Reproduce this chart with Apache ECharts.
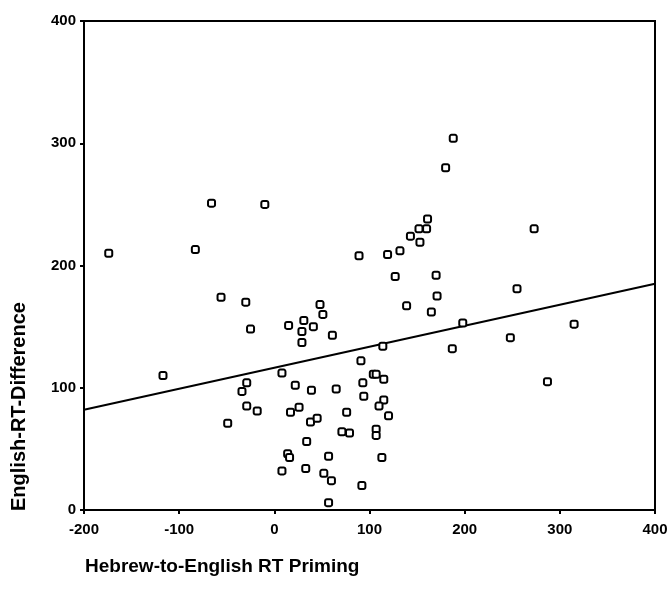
<!DOCTYPE html>
<html>
<head>
<meta charset="utf-8">
<script src="https://cdn.jsdelivr.net/npm/echarts@6/dist/echarts.min.js"></script>
<style>
html,body{margin:0;padding:0;background:#fff;}
#chart{width:671px;height:598px;}
</style>
</head>
<body>
<div id="chart"></div>
<script>
// Hebrew-to-English RT Priming (x) vs English-RT-Difference (y)
var priming = [-174,-83,-66,-10,89,188,180,161,160,152,143,153,132,119,273,127,170,171,139,165,255,198,315,248,114,187,287,-56,-30,-25,-117,48,51,31,15,41,29,61,29,91,8,104,107,-29,22,-34,39,65,93,94,115,115,110,120,-29,-18,17,26,76,-49,38,45,71,79,107,107,34,14,16,57,113,8,33,52,60,92,57];
var difference = [210,213,251,250,208,304,280,238,230,230,224,219,212,209,230,191,192,175,167,162,181,153,152,141,134,132,105,174,170,148,110,168,160,155,151,150,146,143,137,122,112,111,111,104,102,97,98,99,104,93,107,90,85,77,85,81,80,84,80,71,72,75,64,63,66,61,56,46,43,44,43,32,34,30,24,20,6];
// fitted line endpoints
var fitX = [-200, 400];
var fitY = [82, 185];
var xTicks = [-200,-100,0,100,200,300,400];
var yTicks = [0,100,200,300,400];

var pts = priming.map(function(x,i){return [x, difference[i]];});
var fit = fitX.map(function(x,i){return [x, fitY[i]];});

var chart = echarts.init(document.getElementById('chart'));
var lblFont = {color:'#000', fontFamily:'Liberation Sans, Arial, sans-serif', fontWeight:'bold', fontSize:15};
chart.setOption({
  animation:false,
  backgroundColor:'#fff',
  grid:{left:84,right:16,top:21,bottom:88,show:true,borderColor:'#000',borderWidth:2,backgroundColor:'transparent'},
  xAxis:{type:'value',min:xTicks[0],max:xTicks[xTicks.length-1],interval:100,
    axisLine:{show:true,onZero:false,lineStyle:{color:'#000',width:2}},
    axisTick:{show:true,length:4,lineStyle:{color:'#000',width:2}},
    axisLabel:Object.assign({margin:12},lblFont),
    splitLine:{show:false}},
  yAxis:{type:'value',min:yTicks[0],max:yTicks[yTicks.length-1],interval:100,
    axisLine:{show:true,onZero:false,lineStyle:{color:'#000',width:2}},
    axisTick:{show:true,length:4,lineStyle:{color:'#000',width:2}},
    axisLabel:Object.assign({margin:8},lblFont),
    splitLine:{show:false}},
  graphic:[
    {type:'text',left:85,top:557,style:{text:'Hebrew-to-English RT Priming',fill:'#000',font:'bold 19px "Liberation Sans", Arial, sans-serif'}},
    {type:'text',x:9,y:511,rotation:Math.PI/2,style:{text:'English-RT-Difference',fill:'#000',font:'bold 20px "Liberation Sans", Arial, sans-serif',textAlign:'left',textVerticalAlign:'top'}}
  ],
  series:[
    {type:'line',data:fit,symbol:'none',lineStyle:{color:'#000',width:2},z:2},
    {type:'scatter',data:pts,symbol:'roundRect',symbolSize:7,
      itemStyle:{color:'#fff',borderColor:'#000',borderWidth:2,opacity:1},z:3}
  ]
});
</script>
</body>
</html>
